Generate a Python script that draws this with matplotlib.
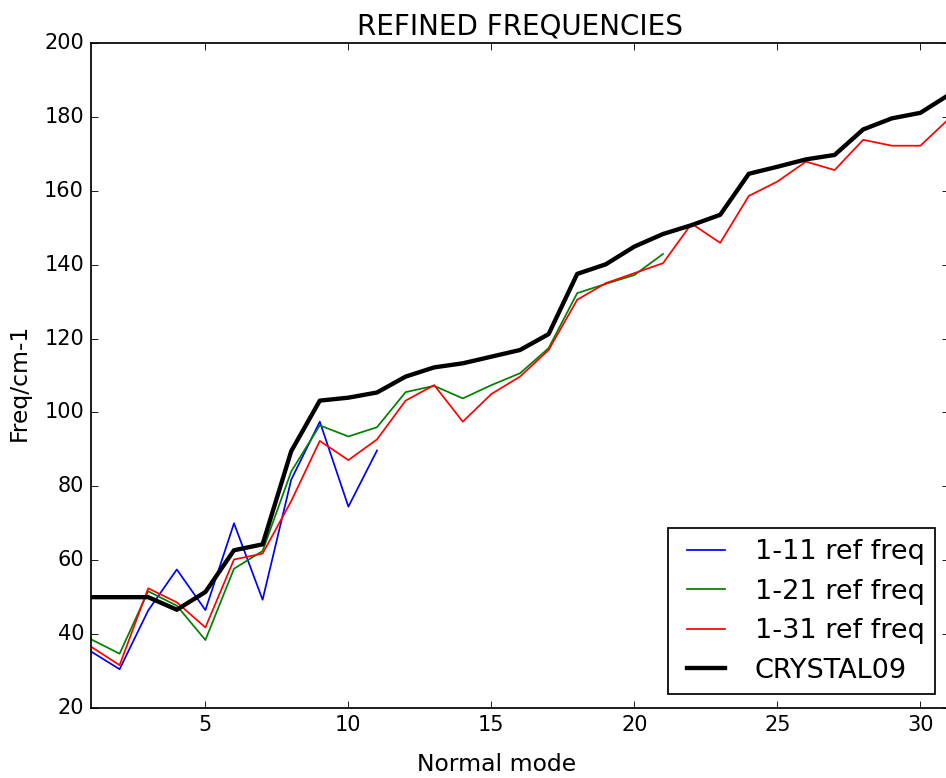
import numpy as np
import matplotlib
matplotlib.use('Agg')
import matplotlib.pyplot as plt

plt.style.use('classic')

# Frequencies per normal mode (cm-1)
modes = np.arange(1, 32)
ref11 = [35.3, 30.5, 46.4, 57.5, 46.5, 70.0, 49.3, 81.8, 97.5, 74.5, 89.7]
ref21 = [38.6, 34.7, 51.6, 47.7, 38.4, 57.7, 62.5, 84.0, 96.5, 93.5, 96.0,
         105.5, 107.2, 103.8, 107.4, 110.6, 117.4, 132.3, 134.8, 137.2, 142.9]
ref31 = [36.6, 31.6, 52.4, 48.6, 41.8, 60.2, 61.8, 76.0, 92.3, 87.1, 92.7,
         103.2, 107.4, 97.5, 105.0, 109.7, 116.9, 130.5, 135.0, 137.7, 140.4,
         151.1, 145.9, 158.6, 162.5, 167.9, 165.6, 173.8, 172.2, 172.2, 179.5]
crystal = [50.0, 50.0, 50.0, 46.6, 51.4, 62.7, 64.3, 89.5, 103.2, 104.0, 105.4,
           109.7, 112.2, 113.3, 115.1, 116.9, 121.2, 137.5, 140.1, 144.9, 148.3,
           150.7, 153.5, 164.6, 166.5, 168.5, 169.7, 176.6, 179.6, 181.1, 186.0]

fig = plt.figure(figsize=(946/125., 778/125.), dpi=125, facecolor='white')
ax = fig.add_axes([91/946., 70/778., 858/946., 665/778.])

ax.plot(modes[:len(ref11)], ref11, 'b-', label='1-11 ref freq')
ax.plot(modes[:len(ref21)], ref21, 'g-', label='1-21 ref freq')
ax.plot(modes[:len(ref31)], ref31, 'r-', label='1-31 ref freq')
ax.plot(modes, crystal, 'k-', linewidth=2.5, label='CRYSTAL09')

ax.set_xlim(1, 31)
ax.set_ylim(20, 200)
ax.set_xticks([5, 10, 15, 20, 25, 30])
ax.set_title('REFINED FREQUENCIES', fontsize=16)
ax.set_xlabel('Normal mode', fontsize=13.5)
ax.set_ylabel('Freq/cm-1', fontsize=13.5)
ax.xaxis.set_label_coords(0.473, -0.068)
ax.yaxis.set_label_coords(-0.07, 0.49)
ax.legend(loc=4, fontsize=15.6)

fig.savefig('out.png', dpi=125, facecolor='white')
